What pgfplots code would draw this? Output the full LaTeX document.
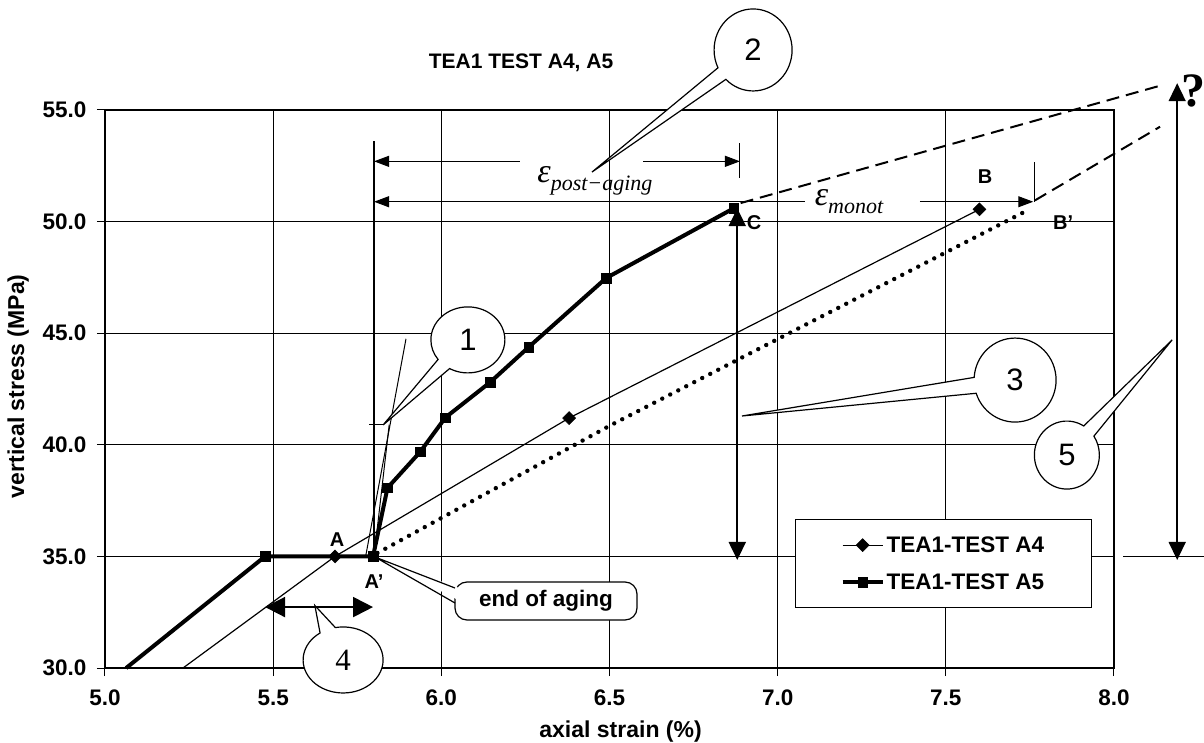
\documentclass[border=0pt]{standalone}
\usepackage{fontspec}
\setmainfont{Liberation Sans}
\newfontfamily\numserif{Liberation Serif}
\usepackage{pgfplots}
\pgfplotsset{compat=1.18}
\usetikzlibrary{arrows.meta,shapes.callouts}

\newcommand{\fs}[1]{\fontsize{#1}{#1}\selectfont}
% strain symbol with an italic serif subscript
\newcommand{\strainsym}[1]{{\numserif\itshape\fs{34}ε\raisebox{-8pt}{\fs{22}#1}}}

% measured stress-strain points (axial strain %, vertical stress MPa)
\pgfplotstableread{
x y
5.476 35.00
5.797 35.00
5.840 38.07
5.937 39.68
6.012 41.22
6.145 42.80
6.260 44.38
6.490 47.47
6.870 50.60
}\testAfive
\pgfplotstableread{
x y
5.684 35.00
6.380 41.20
7.600 50.55
}\testAfour

\tikzset{
  callnum/.style={ellipse callout, draw, line width=1.2pt, fill=white, inner sep=0pt,
    font=\fs{31}},
  bighead/.tip={Triangle[length=18pt,width=17pt]},
  smallhead/.tip={Triangle[length=15pt,width=11pt]},
  widehead/.tip={Triangle[length=20pt,width=20pt]},
}

\begin{document}
\begin{tikzpicture}[x=1pt,y=1pt]
\begin{axis}[
  at={(0pt,0pt)}, anchor=south west,
  scale only axis, width=1009pt, height=558pt,
  xmin=5, xmax=8, ymin=30, ymax=55,
  xtick={5,5.5,...,8}, ytick={30,35,...,55},
  xtick pos=bottom, ytick pos=left,
  grid=major, major grid style={black, line width=0.9pt},
  axis line style={line width=2.4pt},
  tick align=outside, major tick length=8pt,
  tick style={black, line width=1pt},
  tick label style={font=\fs{22.5}\bfseries},
  xticklabel style={yshift=-10pt},
  yticklabel style={xshift=-7pt},
  /pgf/number format/fixed, /pgf/number format/fixed zerofill,
  /pgf/number format/precision=1, /pgf/number format/assume math mode=true,
  xlabel={axial strain (\%)}, ylabel={vertical stress (MPa)},
  label style={font=\fs{23}\bfseries},
  xlabel style={at={(axis description cs:0.511,0)}, anchor=center, yshift=-64pt},
  ylabel style={at={(axis description cs:-0.086,0.505)}, anchor=center, rotate=0},
  clip=false,
  legend style={at={(rel axis cs:0.684,0.267)}, anchor=north west, draw=black,
    line width=1pt, fill=white, font=\fs{22.5}\bfseries, inner xsep=45pt,
    inner ysep=15pt, row sep=16pt},
  legend cell align=left,
  legend image code/.code={\draw[mark repeat=2,mark phase=2,#1]
    plot coordinates {(0pt,0pt) (20pt,0pt) (40pt,0pt)};},
]
% leading branches below the first marked point
\addplot[forget plot, black, line width=1.2pt] coordinates {(5.232,30.0) (5.684,35.0)};
\addplot[forget plot, black, line width=4pt] coordinates {(5.063,30.0) (5.476,35.0)};

\addplot[black, line width=1.2pt, mark=square*, mark size=4.6pt,
  mark options={rotate=45, line width=0.5pt}] table {\testAfour};
\addlegendentry{TEA1-TEST A4}
\addplot[black, line width=4pt, mark=square*, mark size=4.8pt,
  mark options={line width=0.5pt}] table {\testAfive};
\addlegendentry{TEA1-TEST A5}

% monotonic reference path A'-B' and extrapolations
\addplot[forget plot, black, line width=4.4pt, line cap=round,
  dash pattern=on 0pt off 9pt] coordinates {(5.81,35.15) (6.50,40.85) (7.742,50.50)};
\addplot[forget plot, black, line width=2pt, dash pattern=on 13pt off 7pt]
  coordinates {(6.89,50.83) (8.14,56.10)};
\addplot[forget plot, black, line width=2pt, dash pattern=on 13pt off 7pt]
  coordinates {(7.765,50.95) (8.137,54.25)};

% end-of-aging reference line and tangents
\draw[line width=1.2pt] (axis cs:5.80,35.0) -- (axis cs:5.80,53.6);
\draw[line width=1pt] (axis cs:5.775,35.0) -- (axis cs:5.895,44.75);
\draw[line width=1pt] (axis cs:5.80,35.0) -- (axis cs:5.845,40.9);
\draw[line width=1pt] (axis cs:5.785,40.9) -- (axis cs:5.83,40.9);

% strain increments
\draw[line width=1pt, smallhead-] (axis cs:5.80,52.7) -- (axis cs:6.234,52.7);
\draw[line width=1pt, -smallhead] (axis cs:6.60,52.7) -- (axis cs:6.888,52.7);
\draw[line width=1pt] (axis cs:6.888,53.52) -- (axis cs:6.888,51.95);
\node[anchor=base west, inner sep=0pt] at (axis cs:6.285,51.77) {\strainsym{post−aging}};

\draw[line width=1pt, smallhead-] (axis cs:5.80,50.89) -- (axis cs:7.08,50.89);
\draw[line width=1pt, -smallhead] (axis cs:7.423,50.89) -- (axis cs:7.76,50.89);
\draw[line width=1pt] (axis cs:7.765,52.67) -- (axis cs:7.765,50.89);
\node[anchor=base west, inner sep=0pt] at (axis cs:7.11,50.74) {\strainsym{monot}};

% stress ranges
\draw[line width=2pt, bighead-bighead] (axis cs:6.88,50.6) -- (axis cs:6.88,34.84);
\draw[line width=1.5pt, bighead-bighead] (axis cs:8.188,56.2) -- (axis cs:8.188,34.84);
\draw[line width=1pt] (axis cs:8.027,35.0) -- (axis cs:8.30,35.0);
\node[font=\fs{48}\bfseries\numserif] at (axis cs:8.235,55.85) {?};

% strain range of aging
\draw[line width=2pt, widehead-widehead] (axis cs:5.476,32.73) -- (axis cs:5.797,32.73);

% point labels
\node[font=\fs{20}\bfseries] at (axis cs:5.69,35.75) {A};
\node[font=\fs{20}\bfseries] at (axis cs:5.80,33.85) {A'};
\node[font=\fs{20}\bfseries] at (axis cs:7.617,52.0) {B};
\node[font=\fs{20}\bfseries] at (axis cs:7.849,49.94) {B'};
\node[font=\fs{20}\bfseries] at (axis cs:6.930,49.94) {C};

\node[font=\fs{21}\bfseries] at (axis cs:6.237,57.1) {TEA1 TEST A4, A5};

% anchor points for the callouts
\coordinate (t1) at (axis cs:5.827,40.89);
\coordinate (t2) at (axis cs:6.448,52.22);
\coordinate (t3) at (axis cs:6.894,41.29);
\coordinate (t4) at (axis cs:5.624,32.80);
\coordinate (t5) at (axis cs:8.173,44.70);
\coordinate (tA) at (axis cs:5.803,34.97);
\coordinate (n1) at (axis cs:6.079,44.70);
\coordinate (n2) at (axis cs:6.927,57.69);
\coordinate (n3) at (axis cs:7.706,42.90);
\coordinate (n4) at (axis cs:5.708,30.36);
\coordinate (n5) at (axis cs:7.860,39.54);
\end{axis}

% numbered callouts
\node[callnum, minimum width=74pt, minimum height=66pt, callout absolute pointer={(t1)},
  callout pointer arc=24] at (n1) {1};
\node[callnum, minimum width=78pt, minimum height=82pt, callout absolute pointer={(t2)},
  callout pointer arc=20] at (n2) {2};
\node[callnum, minimum width=82pt, minimum height=84pt, callout absolute pointer={(t3)},
  callout pointer arc=22] at (n3) {3};
\node[callnum, minimum width=80pt, minimum height=66pt, callout absolute pointer={(t4)},
  callout pointer arc=24, font=\fs{31}\numserif] at (n4) {4};
\node[callnum, minimum width=65pt, minimum height=68pt, callout absolute pointer={(t5)},
  callout pointer arc=25] at (n5) {5};

% end of aging label
\node[draw, line width=1.2pt, fill=white, rounded corners=12pt, minimum width=182pt,
  minimum height=38pt, inner sep=0pt, font=\fs{22.5}\bfseries] at (441pt,67pt) {end of aging};
\fill[white] (tA) -- (357pt,79pt) -- (357pt,66pt) -- cycle;
\draw[line width=1.2pt] (350pt,80pt) -- (tA) -- (350pt,65pt);

\pgfresetboundingbox
\path[use as bounding box] (-105pt,-74pt) rectangle (1099pt,668pt);
\end{tikzpicture}
\end{document}
